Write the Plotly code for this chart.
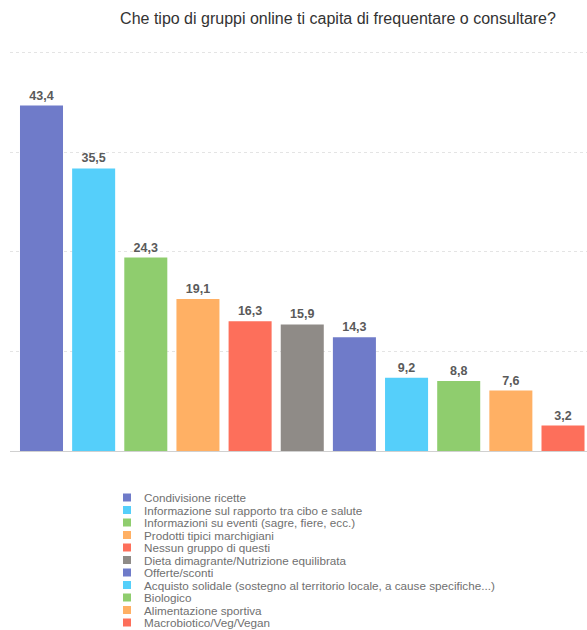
import plotly.graph_objects as go

categories = [
    "Condivisione ricette",
    "Informazione sul rapporto tra cibo e salute",
    "Informazioni su eventi (sagre, fiere, ecc.)",
    "Prodotti tipici marchigiani",
    "Nessun gruppo di questi",
    "Dieta dimagrante/Nutrizione equilibrata",
    "Offerte/sconti",
    "Acquisto solidale (sostegno al territorio locale, a cause specifiche...)",
    "Biologico",
    "Alimentazione sportiva",
    "Macrobiotico/Veg/Vegan",
]
values = [43.4, 35.5, 24.3, 19.1, 16.3, 15.9, 14.3, 9.2, 8.8, 7.6, 3.2]
colors = ["#6f7bc9", "#55cffa", "#8fcd6e", "#ffb064", "#fd6f5b", "#8f8b87",
          "#6f7bc9", "#55cffa", "#8fcd6e", "#ffb064", "#fd6f5b"]
title = "Che tipo di gruppi online ti capita di frequentare o consultare?"

FONT = "Liberation Sans, Arial, Helvetica, sans-serif"
W, H = 587, 630
ml, mr, mt, mb = 10, 0, 45, 179
pw, ph = W - ml - mr, H - mt - mb

fig = go.Figure()
fig.add_trace(go.Bar(
    x=list(range(len(categories))),
    y=values,
    marker=dict(color=colors, line=dict(width=0)),
    texttemplate="%{y:.1f}",
    textposition="outside",
    textfont=dict(family=FONT, size=12.5, color="#5a5a5a", weight="bold"),
    cliponaxis=False,
    hovertext=categories,
    showlegend=False,
))

# custom legend (compact rows)
row0 = 497.5
pitch = 12.5
for i, (name, col) in enumerate(zip(categories, colors)):
    cy = row0 + i * pitch
    y_paper = (H - mb - cy) / ph
    fig.add_shape(type="rect", xref="paper", yref="paper",
                  x0=(123 - ml) / pw, x1=(131 - ml) / pw,
                  y0=y_paper - 4 / ph, y1=y_paper + 4 / ph,
                  fillcolor=col, line=dict(width=0))
    fig.add_annotation(xref="paper", yref="paper", x=(142 - ml) / pw, y=y_paper,
                       text=name, showarrow=False, xanchor="left", yanchor="middle",
                       font=dict(family=FONT, size=11.7, color="#707070"))

fig.update_layout(
    width=W, height=H,
    margin=dict(l=ml, r=mr, t=mt, b=mb),
    paper_bgcolor="white", plot_bgcolor="white",
    separators=",.",
    bargap=0.175,
    title=dict(text=title, x=338 / W, xanchor="center", y=1 - 18 / H, yanchor="middle",
               font=dict(family=FONT, size=16, color="#333333")),
    xaxis=dict(range=[-0.604, 10.46], showticklabels=False, showgrid=False, zeroline=False,
               showline=False, ticks=""),
    yaxis=dict(range=[0, 51], dtick=12.5, tick0=0, showticklabels=False, showgrid=True,
               gridcolor="#e4e4e4", griddash="dot", gridwidth=1, zeroline=True,
               zerolinecolor="#d0d0d0", zerolinewidth=1, showline=False, ticks=""),
)

fig.write_html("out.html")
